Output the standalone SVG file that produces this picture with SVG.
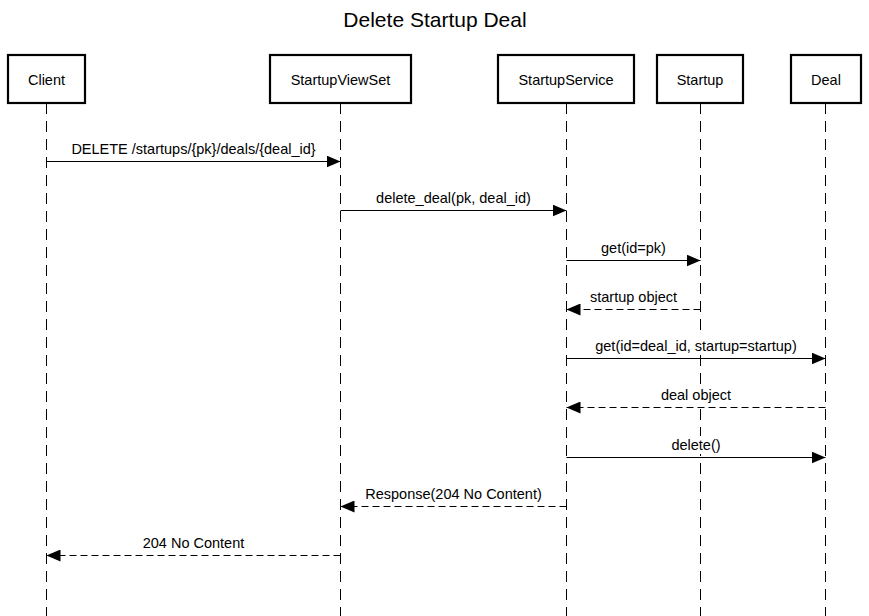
<svg xmlns="http://www.w3.org/2000/svg" width="869" height="616" viewBox="0 0 869 616">
<style>
text{font-family:"Liberation Sans",Arial,Helvetica,sans-serif;fill:#000}
.title{font-size:21px;text-anchor:middle}
.actor rect{fill:#fff;stroke:#000;stroke-width:2.2}
.actor text{font-size:14.5px;text-anchor:middle}
.life{stroke:#000;stroke-width:1;stroke-dasharray:11,7}
.msg{stroke:#000;stroke-width:1.2;fill:none;marker-end:url(#ah)}
.ret{stroke-dasharray:7,4}
.lbl{font-size:14.5px;text-anchor:middle}
.bg{fill:#fff}
</style>
<defs>
<marker id="ah" markerUnits="userSpaceOnUse" markerWidth="14" markerHeight="12" refX="14" refY="6" orient="auto">
<path d="M0,0 L14,6 L0,12 z" fill="#000"/>
</marker>
</defs>
<rect width="869" height="616" fill="#fff"/>
<text class="title" x="435" y="27">Delete Startup Deal</text>
<g id="lifelines">
<line class="life" x1="46.5" y1="103" x2="46.5" y2="616"/>
<line class="life" x1="340.5" y1="103" x2="340.5" y2="616"/>
<line class="life" x1="566.5" y1="103" x2="566.5" y2="616"/>
<line class="life" x1="700.5" y1="103" x2="700.5" y2="616"/>
<line class="life" x1="825.5" y1="103" x2="825.5" y2="616"/>
</g>
<g id="client" class="actor"><rect x="8" y="55" width="77" height="48"/><text x="46.5" y="85">Client</text></g>
<g id="startupviewset" class="actor"><rect x="270" y="55" width="141" height="48"/><text x="340.5" y="85">StartupViewSet</text></g>
<g id="startupservice" class="actor"><rect x="498" y="55" width="136" height="48"/><text x="566" y="85">StartupService</text></g>
<g id="startup" class="actor"><rect x="657" y="55" width="86" height="48"/><text x="700" y="85">Startup</text></g>
<g id="deal" class="actor"><rect x="791" y="55" width="70" height="48"/><text x="826" y="85">Deal</text></g>
<g id="connectors">
<line class="msg" x1="46.5" y1="161.5" x2="340.5" y2="161.5"/>
<text class="lbl" x="193.5" y="154">DELETE /startups/{pk}/deals/{deal_id}</text>
<line class="msg" x1="340.5" y1="210.5" x2="566.5" y2="210.5"/>
<text class="lbl" x="453.5" y="203">delete_deal(pk, deal_id)</text>
<line class="msg" x1="566.5" y1="260.5" x2="700.5" y2="260.5"/>
<text class="lbl" x="633.5" y="253">get(id=pk)</text>
<line class="msg ret" x1="700.5" y1="309.5" x2="566.5" y2="309.5"/>
<text class="lbl" x="633.5" y="302">startup object</text>
<line class="msg" x1="566.5" y1="358.5" x2="825.5" y2="358.5"/>
<rect class="bg" x="594" y="337" width="204" height="18"/>
<text class="lbl" x="696" y="351">get(id=deal_id, startup=startup)</text>
<line class="msg ret" x1="825.5" y1="407.5" x2="566.5" y2="407.5"/>
<rect class="bg" x="659" y="386" width="74" height="18"/>
<text class="lbl" x="696" y="400">deal object</text>
<line class="msg" x1="566.5" y1="457.5" x2="825.5" y2="457.5"/>
<rect class="bg" x="670" y="436" width="52" height="18"/>
<text class="lbl" x="696" y="450">delete()</text>
<line class="msg ret" x1="566.5" y1="506.5" x2="340.5" y2="506.5"/>
<text class="lbl" x="453.5" y="499">Response(204 No Content)</text>
<line class="msg ret" x1="340.5" y1="555.5" x2="46.5" y2="555.5"/>
<text class="lbl" x="193.5" y="548">204 No Content</text>
</g>
</svg>
